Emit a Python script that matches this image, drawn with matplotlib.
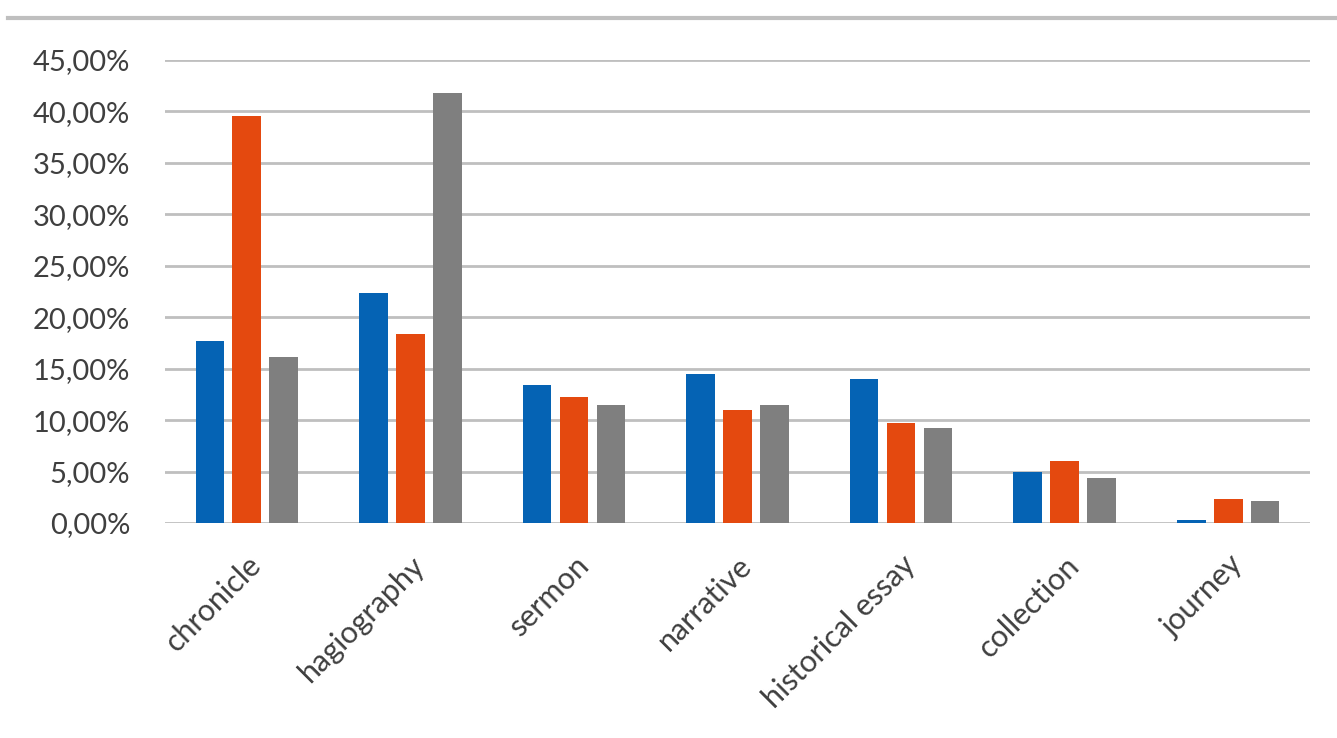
import matplotlib
matplotlib.use("Agg")
import matplotlib.pyplot as plt
from matplotlib.lines import Line2D
from matplotlib.ticker import FuncFormatter
import numpy as np

categories = ["chronicle", "hagiography", "sermon", "narrative",
              "historical essay", "collection", "journey"]
series_a = [17.7, 22.4, 13.4, 14.5, 14.0, 5.0, 0.25]
series_b = [39.6, 18.4, 12.2, 11.0, 9.7, 6.0, 2.3]
series_c = [16.1, 41.8, 11.5, 11.5, 9.2, 4.4, 2.1]
colors = ["#0563B4", "#E4490F", "#7F7F7F"]
yticks = [0, 5, 10, 15, 20, 25, 30, 35, 40, 45]

plt.rcParams['font.family'] = ['Lato', 'DejaVu Sans']

fig = plt.figure(figsize=(13.37, 7.38), dpi=100)
ax = fig.add_axes([165/1337, 1-523/738, (1310-165)/1337, (523-60)/738])

x = np.arange(len(categories))
off = 0.226
w = 0.175
for j, (vals, c) in enumerate(zip([series_a, series_b, series_c], colors)):
    ax.bar(x + (j-1)*off, vals, width=w, color=c, zorder=3)

ax.set_xlim(-0.5, len(categories)-0.5)
ax.set_ylim(0, 45)
ax.set_yticks(yticks)
ax.yaxis.set_major_formatter(FuncFormatter(lambda v, p: f"{v:.2f}".replace(".", ",") + "%"))
ax.grid(axis='y', color='#BFBFBF', linewidth=2, zorder=0)
ax.set_axisbelow(True)
for s in ax.spines.values():
    s.set_visible(False)
ax.tick_params(axis='y', length=0, labelsize=21, colors='#3F3F3F', pad=25)
ax.set_xticks(x)
ax.set_xticklabels(categories, rotation=45, ha='right', rotation_mode='anchor')
ax.tick_params(axis='x', length=0, labelsize=22, colors='#3F3F3F', pad=20)

fig.add_artist(Line2D([8/1337, 1], [1-18/738, 1-18/738], color='#BFBFBF',
                      linewidth=3, transform=fig.transFigure))

fig.savefig("out.png", dpi=100, facecolor='white')
